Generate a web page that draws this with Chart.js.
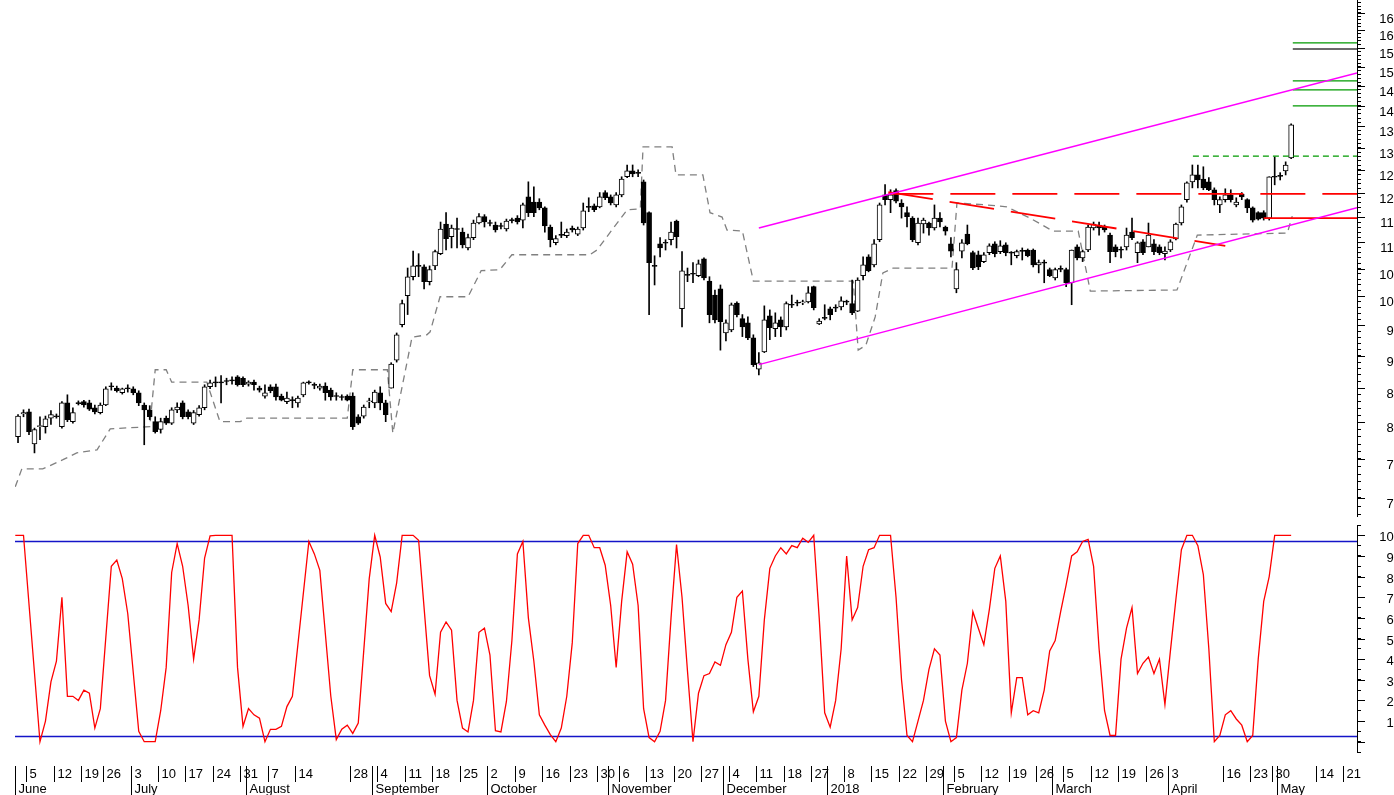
<!DOCTYPE html>
<html lang="en">
<head>
<meta charset="UTF-8">
<title>Candlestick chart with oscillator</title>
<script src="https://cdn.jsdelivr.net/npm/chart.js@4.4.3/dist/chart.umd.min.js"></script>
<style>
  html, body { margin: 0; padding: 0; background: #fff; overflow: hidden; }
  body { width: 1394px; height: 795px; position: relative; }
  canvas { position: absolute; left: 0; }
  #priceChart { top: 0; }
  #oscChart { top: 518px; }
</style>
</head>
<body>
<canvas id="priceChart" width="1420" height="518"></canvas>
<canvas id="oscChart" width="1420" height="277"></canvas>
<script>
// ---- daily candles (one per trading day, index 0 = 1 June 2017) ----
const candleOpen = [78.0,81.2,81.5,77.0,79.4,79.4,80.6,80.9,79.4,82.8,80.1,82.8,83.0,82.8,82.1,81.4,82.5,85.3,85.0,84.3,
  85.0,84.9,84.3,82.5,81.8,80.1,79.0,80.6,79.9,81.8,82.8,81.5,79.9,81.1,82.1,85.2,85.9,85.9,86.1,86.2,
  86.7,86.5,85.6,85.9,85.0,83.8,85.2,85.2,83.8,83.0,83.25,82.8,84.0,85.9,85.5,85.0,85.3,84.7,83.85,83.7,
  83.8,83.8,80.8,80.9,82.95,82.8,84.3,82.8,85.0,89.3,95.1,100.1,103.5,105.5,105.3,102.6,105.5,107.8,113.6,111.1,
  112.6,112.0,108.9,110.9,113.8,115.1,113.8,113.4,113.2,112.6,114.4,114.8,114.4,119.2,118.1,118.1,116.9,113.0,109.9,111.45,
  111.3,112.8,111.6,112.8,117.1,117.3,117.1,120.1,119.2,117.5,119.6,123.5,124.8,124.4,122.4,115.9,105.5,109.7,109.9,110.5,
  114.2,97.8,103.85,104.05,103.7,106.8,102.7,100.2,101.3,93.7,94.2,98.8,96.1,95.4,92.9,87.9,90.6,96.6,94.4,95.9,
  94.7,98.5,98.85,98.8,99.0,101.7,95.2,96.25,97.8,98.0,98.1,99.05,98.7,97.4,103.7,107.2,105.7,110.5,119.6,118.6,
  120.5,117.9,115.9,114.8,109.9,113.6,113.8,112.8,114.8,113.0,109.7,101.3,108.3,111.6,108.0,107.6,106.3,108.0,109.7,108.2,
  109.5,108.0,107.4,108.35,108.5,108.5,105.7,106.1,104.8,103.3,104.95,104.8,102.4,109.1,107.0,108.5,112.8,113.4,113.0,111.4,
  109.1,108.55,109.1,112.0,108.0,110.1,109.1,109.7,109.1,107.8,108.5,110.65,113.8,118.6,122.4,123.9,123.0,122.4,120.7,117.5,
  118.6,119.6,117.5,119.8,118.6,116.9,115.9,115.9,114.8,123.5,123.7,124.8,127.7];
const candleHigh = [81.1,81.8,81.9,79.2,80.8,80.9,81.7,81.2,83.0,84.0,82.1,83.1,83.2,83.2,82.5,82.8,85.2,85.8,85.3,85.0,
  85.5,85.2,84.6,82.8,82.4,80.8,80.6,80.9,82.1,82.8,83.1,81.8,81.7,82.4,85.5,86.2,86.7,86.9,86.5,86.7,
  86.9,86.7,86.1,86.2,85.3,85.5,85.5,85.6,84.1,84.4,83.7,83.8,85.9,86.1,85.8,85.6,85.8,85.0,84.3,84.0,
  84.0,84.3,81.1,82.5,83.5,84.7,85.2,83.2,88.9,93.7,99.3,105.1,108.3,107.8,105.7,105.5,108.5,114.0,115.9,113.4,
  114.8,112.8,111.6,114.4,115.7,115.5,114.4,114.0,113.8,114.6,114.8,115.3,117.9,122.4,121.3,118.8,117.1,113.4,111.3,114.0,
  112.6,113.2,113.0,117.9,119.0,117.7,120.1,120.5,119.6,120.1,123.5,126.1,126.1,125.0,122.8,116.1,107.4,110.9,110.5,114.0,
  114.4,108.2,105.1,106.1,106.6,107.0,103.5,101.1,102.0,95.9,98.8,99.0,96.8,96.4,93.4,90.5,98.3,97.6,97.1,96.4,
  99.0,100.2,99.3,99.3,101.7,101.8,96.1,98.5,98.1,98.5,99.9,99.3,102.9,103.3,107.2,107.6,110.5,117.9,121.8,120.7,
  120.9,118.6,117.1,115.1,114.8,114.8,114.0,117.5,115.9,113.2,110.9,106.1,110.5,113.4,108.3,108.3,108.0,109.7,110.1,110.3,
  109.9,108.2,108.5,108.9,108.7,108.7,106.6,106.6,105.1,105.1,105.5,105.1,108.5,109.5,108.5,113.4,114.0,114.0,113.4,111.8,
  109.5,109.1,112.8,114.8,110.1,110.5,113.8,110.5,109.5,109.1,110.5,113.8,117.5,122.4,126.1,126.1,125.7,123.3,121.1,119.2,
  120.9,120.7,119.0,120.1,118.8,117.1,116.1,116.3,123.5,127.9,124.4,126.8,135.6];
const candleLow = [77.2,80.8,78.3,75.8,77.6,78.5,79.7,80.6,79.2,80.1,79.9,82.5,82.2,81.7,81.2,81.2,82.4,84.7,84.4,84.1,
  84.4,84.0,82.4,76.9,80.4,78.5,78.5,79.7,79.7,81.4,80.5,80.5,79.7,80.9,81.8,84.9,85.2,82.8,85.5,85.6,
  85.3,85.2,85.3,84.7,84.4,83.5,84.3,83.2,83.1,82.7,82.1,82.2,83.7,85.6,84.9,84.7,83.2,83.2,83.2,83.2,
  83.1,79.0,79.7,80.6,82.1,82.1,81.8,80.1,85.0,89.0,94.7,96.8,102.9,103.5,101.3,102.0,104.8,107.6,108.5,108.9,
  108.9,108.9,108.5,110.5,113.6,113.0,113.2,112.0,112.6,112.2,113.8,113.6,112.8,115.1,115.1,116.5,112.0,109.1,109.5,110.9,
  110.9,112.0,111.3,112.4,116.1,116.1,116.9,118.6,117.5,117.1,119.2,123.3,123.5,123.5,113.4,96.8,102.0,107.2,108.5,109.5,
  108.9,94.7,102.6,102.4,103.5,102.9,95.4,95.4,90.9,92.4,93.9,96.4,93.1,92.6,88.3,87.0,90.5,92.6,93.1,93.1,
  94.2,98.0,98.3,98.5,98.8,97.6,95.1,95.9,95.9,97.3,97.6,98.5,96.8,97.3,102.9,104.4,105.3,110.1,117.5,115.9,
  117.9,114.8,113.0,110.1,109.5,111.8,111.4,112.4,113.0,111.4,107.2,100.6,107.0,109.5,104.8,104.8,106.1,107.6,107.2,107.8,
  107.4,105.7,107.0,106.6,107.2,105.3,104.2,102.4,103.5,102.9,104.4,101.7,98.5,106.6,106.3,108.2,112.4,111.4,112.0,106.1,
  107.2,107.0,108.5,110.5,106.1,107.6,109.1,107.6,107.6,106.6,108.2,110.45,113.4,118.1,121.1,121.1,120.7,120.5,117.5,115.9,
  118.1,118.1,117.1,118.6,115.9,114.0,114.4,114.4,114.4,121.75,122.8,123.9,127.5];
const candleClose = [80.9,81.4,78.7,79.0,79.5,80.5,81.1,80.8,82.8,80.4,81.4,82.7,82.5,81.9,81.5,82.5,84.9,85.2,84.6,84.9,
  84.9,84.3,82.8,81.8,80.8,78.7,80.1,79.9,81.8,82.2,80.8,80.8,81.4,82.1,85.2,85.8,85.8,85.8,86.0,86.1,
  85.5,85.5,85.9,85.5,84.7,84.3,84.6,83.7,83.2,83.5,83.15,83.5,85.8,85.8,85.4,85.3,84.3,83.7,83.75,83.6,
  83.2,79.4,79.9,82.2,83.1,84.4,82.8,81.1,88.7,93.4,98.7,103.5,105.5,105.4,102.6,104.8,108.2,112.6,110.7,112.8,
  112.5,109.5,110.9,113.8,115.1,114.0,113.7,112.4,113.1,114.2,114.3,114.0,117.5,115.9,115.9,116.9,113.2,110.5,110.7,111.35,
  112.0,112.4,112.6,116.3,117.0,116.5,119.2,119.0,117.9,119.6,123.0,124.8,124.1,124.25,113.8,106.1,105.4,108.9,109.8,112.0,
  111.1,104.6,103.75,103.95,105.9,103.3,96.8,95.9,95.6,95.4,98.5,96.8,94.7,92.9,88.6,88.9,95.9,94.6,95.4,94.7,
  98.7,98.4,98.75,99.0,100.6,98.0,95.7,96.15,96.8,97.9,99.2,98.95,97.1,102.9,105.7,104.6,109.7,117.5,118.6,119.6,
  118.3,117.1,115.1,110.5,113.8,114.4,112.8,114.8,114.0,112.2,108.3,104.8,109.9,109.7,105.1,105.3,107.6,109.3,107.8,109.3,
  108.0,107.9,108.2,108.25,107.4,105.7,106.1,106.0,103.7,104.8,104.85,102.4,108.5,107.0,108.2,113.0,113.6,112.8,112.4,108.2,
  108.2,108.45,111.4,110.9,109.9,108.0,111.4,108.2,108.0,108.3,110.1,113.6,117.1,122.2,123.9,122.8,121.1,120.7,118.6,118.6,
  119.6,118.6,118.1,119.2,116.9,114.4,114.6,114.8,123.5,123.4,123.6,126.1,135.4];

// ---- trailing stop (grey dashed), vertices by day index ----
const stopIdx = [-0.5,0.7,4.5,5.8,8.2,10.7,14.4,16.8,24,25,27,28,34.4,36.8,40.5,41.7,60,61,67.3,68.3,
  71.8,74.5,75.1,76.9,82,84.4,87.8,90,104.2,105.5,111,113.4,113.9,119.2,119.9,124.8,126.1,128.3,129.2,132,
  134,152.2,153.1,154.5,156.2,157.6,159.5,170.2,171.1,176.6,180.2,184.4,188.6,193.2,195.4,211.2,214.9,231.3,232.2];
const stopVal = [71.4,73.7,73.7,74.1,74.9,75.8,76.2,79.1,79.4,87.8,87.8,85.9,85.9,80.1,80.1,80.6,80.6,87.8,87.8,78.5,
  93.0,93.4,93.9,99.9,99.9,104.6,104.8,107.6,107.6,108.5,116.5,116.7,130.2,130.2,123.9,123.9,115.9,115.0,112.4,112.2,
  102.7,102.7,90.9,91.7,96.4,104.2,105.1,105.1,117.9,117.5,117.1,114.8,112.2,112.2,100.9,101.1,111.4,111.8,115.2];

// ---- drawn lines ----
const channelIdx = [135, 244];
const channelUpper = [112.8, 148.4];
const channelLower = [88.6, 116.9];
const resistIdx = [158.6, 244];
const resistVal = [119.8, 119.8];
const trendIdx = [158.6, 220];
const trendVal = [120.2, 109.3];
const supportIdx = [227, 244];
const supportVal = [114.8, 114.8];
const targetIdx = [214.1, 244];
const targetVal = [128.1, 128.1];
const levelIdx = [232.3, 244];
const greenLevels = [156.5, 146.3, 144.0, 140.0];
const greyLevel = 154.8;

// ---- oscillator (0..100), vertices by day index ----
const oscIdx = [-0.5,1,4,5,6,7,8,9,10,11,12,13,14,15,17,18,19,20,22,23,25,26,27,28,29,30,31,32,33,34,35,36,39,40,41,42,43,44,45,46,
  47,48,49,50,53,54,55,57,58,59,60,61,62,64,65,66,67,68,69,70,72,73,75,76,77,78,79,80,81,82,83,84,85,86,87,88,89,90,91,92,
  93,94,95,96,97,98,99,100,101,102,103,104,105,106,107,108,109,110,111,112,113,114,115,116,117,118,119,120,121,122,123,124,125,126,127,128,
  129,130,131,132,133,134,135,136,137,138,139,140,141,142,143,144,145,146,147,148,149,150,151,152,153,154,155,156,157,158,159,160,161,162,163,164,
  165,166,167,168,169,170,171,172,173,174,175,176,177,178,179,180,181,182,183,184,185,186,187,188,189,190,191,192,193,194,195,196,197,198,199,200,
  201,202,203,204,205,206,207,208,209,210,211,212,213,214,215,216,217,218,219,220,221,222,223,224,225,226,227,228,229,230,231,232];
const oscVal = [100,100,0,10,29,39,70,22,22,20,25,23.5,6.6,16,85,88,79,62,5,0,0,15,36,82,96,85,66,40,59,89,99.7,100,100,36,7.4,16,13,11.4,0,6,
  6,7.4,17,22,97,91,83,22,1,6,8,4,9,79,100,89.5,67,63,77,100,100,97.6,32,23,53,58,54,20,6.6,4.7,20,53,55,42,5.3,4.7,19.5,49,91,97,
  60,39,13,8,3.4,0,6.6,22,48,96,100,100,94,94,85.5,66,36,68,92,86,66,16,2,0,5,20,60,95.5,70,34,0,23.5,32,33,38.6,37,
  47,53,70,73,40,14.5,22,59,84,90,94,91,95,94,98.6,96.6,100,60,14,7,20,45,90,59,65,85,93,94,100,100,100,70,30,3,0,10,
  20,35,45,42,10,0,2,25,38,63,55,47,64,84,90,68,14,31,31,13,15,14,25,44,49,63,76,90,92,97,98,85,45,15,3,3,
  40,55,65,33,38,41,33,40,18,44,69,93,100,100,95,81,45,0,3,13,15,11,8,0,3,40,68,80,100,100,100,100];
const oscUpper = 97;
const oscLower = 2.5;

// ---- time axis labels ----
const weekLabels = ['5','12','19','26','3','10','17','24','31','7','14','28','4','11','18','25','2','9','16','23','30',
  '6','13','20','27','4','11','18','27','8','15','22','29','5','12','19','26','5','12','19','26','3','16','23','30','14','21'];
const weekStart = [2,7,12,16,21,26,31,36,41,46,51,61,66,71,76,81,86,91,96,101,106,
  110,115,120,125,130,135,140,145,151,156,161,166,171,176,181,186,191,196,201,206,210,220,225,229,237,242];
const monthNames = ['June','July','August','September','October','November','December','2018','February','March','April','May'];
const monthStart = [0,21,42,65,86,108,129,148,169,189,210,230];

// axis labels (minor ticks sit between them)
const priceLabels = [70,75,80,85,90,95,100,105,110,115,120,125,130,135,140,145,150,155,160,165];
const oscLabels = [10,20,30,40,50,60,70,80,90,100];
const oscMajor = [0,10,20,30,40,50,60,70,80,90,100];

const FONT = '13px "Liberation Sans", Arial, sans-serif';
const xMin = -0.55, xMax = 244;

function pts(xs, ys) { return xs.map((x, i) => ({x: x, y: ys[i]})); }

const wickData = candleOpen.map((o, i) => ({x: i, y: [candleLow[i], candleHigh[i]]}));
const bodyData = candleOpen.map((o, i) => ({x: i, y: [o, candleClose[i]]}));
const bodyFill = candleOpen.map((o, i) => candleClose[i] >= o ? '#ffffff' : '#000000');

// long tick marks and right-aligned labels on the value axis
const axisMarks = {
  id: 'axisMarks',
  afterDraw(chart, args, opts) {
    const s = chart.scales.y, ctx = chart.ctx;
    ctx.save();
    ctx.strokeStyle = '#000';
    ctx.fillStyle = '#000';
    ctx.lineWidth = 1;
    ctx.font = FONT;
    ctx.textAlign = 'right';
    ctx.textBaseline = 'middle';
    opts.major.forEach(v => {
      const y = Math.round(s.getPixelForValue(v)) + 0.5;
      ctx.beginPath();
      ctx.moveTo(s.left, y);
      ctx.lineTo(s.left + 8, y);
      ctx.stroke();
      if (opts.labels.includes(v)) ctx.fillText(String(v), s.left + 44, y + opts.shift);
    });
    ctx.restore();
  }
};

// week / month boxes under the oscillator
const timeAxis = {
  id: 'timeAxis',
  afterDraw(chart) {
    const xs = chart.scales.x, ctx = chart.ctx;
    const top = chart.chartArea.bottom + 14, mid = top + 16, bottom = chart.height;
    ctx.save();
    ctx.strokeStyle = '#000';
    ctx.fillStyle = '#000';
    ctx.lineWidth = 1;
    ctx.font = FONT;
    ctx.textBaseline = 'middle';
    ctx.textAlign = 'left';
    weekStart.forEach((d, i) => {
      const x = Math.round(xs.getPixelForValue(d - 0.5)) + 0.5;
      ctx.beginPath(); ctx.moveTo(x, top); ctx.lineTo(x, mid); ctx.stroke();
      ctx.fillText(weekLabels[i], x + 3, top + 8);
    });
    monthStart.forEach((d, i) => {
      const x = Math.round(xs.getPixelForValue(d - 0.5)) + 0.5;
      ctx.beginPath(); ctx.moveTo(x, top); ctx.lineTo(x, bottom); ctx.stroke();
      ctx.fillText(monthNames[i], x + 3, mid + 7);
    });
    ctx.restore();
  }
};

function rightAxis(ticks, extra) {
  return Object.assign({
    position: 'right',
    afterBuildTicks: s => { s.ticks = ticks.map(v => ({value: v})); },
    afterFit: s => { s.width = 63; s.paddingTop = 0; s.paddingBottom = 0; },
    grid: { drawOnChartArea: false, drawTicks: true, tickLength: 4, tickColor: '#000' },
    border: { display: true, color: '#000', width: 1 },
    ticks: { display: false, autoSkip: false }
  }, extra);
}

function lineSet(data, color, width, dash, order) {
  return { type: 'line', data: data, borderColor: color, borderWidth: width, borderDash: dash || [],
           pointRadius: 0, fill: false, tension: 0, order: order };
}

const minorPrice = [];
for (let v = 68; v <= 168; v++) minorPrice.push(v);
const minorOsc = [];
for (let v = -5; v <= 105; v += 5) minorOsc.push(v);

const levelSets = greenLevels.map(v => lineSet(pts(levelIdx, [v, v]), '#009a00', 1.3, null, 1));
levelSets.push(lineSet(pts(levelIdx, [greyLevel, greyLevel]), '#3a3a3a', 1.3, null, 1));

new Chart(document.getElementById('priceChart'), {
  type: 'bar',
  data: {
    datasets: [
      lineSet(pts(stopIdx, stopVal), '#808080', 1.3, [7, 5], 10),
      { label: 'wick', data: wickData, backgroundColor: '#000', barThickness: 1, grouped: false, order: 5 },
      { label: 'body', data: bodyData, backgroundColor: bodyFill, borderColor: '#000', borderWidth: 1,
        borderSkipped: false, barThickness: 5, grouped: false, minBarLength: 1, order: 4 },
      lineSet(pts(channelIdx, channelUpper), '#ff00ff', 1.5, null, 1),
      lineSet(pts(channelIdx, channelLower), '#ff00ff', 1.5, null, 1),
      lineSet(pts(resistIdx, resistVal), '#ff0000', 1.8, [45, 17], 1),
      lineSet(pts(trendIdx, trendVal), '#ff0000', 1.8, [45, 17], 1),
      lineSet(pts(supportIdx, supportVal), '#ff0000', 1.8, null, 1),
      lineSet(pts(targetIdx, targetVal), '#009a00', 1.2, [6, 4], 1)
    ].concat(levelSets)
  },
  options: {
    responsive: false, animation: false, events: [],
    layout: { padding: { left: 15, right: 0, top: 0, bottom: 2 } },
    plugins: { legend: { display: false }, tooltip: { enabled: false },
               axisMarks: { major: priceLabels, labels: priceLabels, shift: 6 } },
    scales: {
      x: { type: 'linear', min: xMin, max: xMax, display: false, offset: false, grid: { offset: false } },
      y: rightAxis(minorPrice, { type: 'logarithmic', min: 67.8, max: 168.8 })
    }
  },
  plugins: [axisMarks]
});

new Chart(document.getElementById('oscChart'), {
  type: 'line',
  data: {
    datasets: [
      lineSet(pts(oscIdx, oscVal), '#ff0000', 1.3, null, 1),
      lineSet(pts([xMin, xMax], [oscUpper, oscUpper]), '#1414c8', 1.3, null, 2),
      lineSet(pts([xMin, xMax], [oscLower, oscLower]), '#1414c8', 1.3, null, 2)
    ]
  },
  options: {
    responsive: false, animation: false, events: [],
    layout: { padding: { left: 15, right: 0, top: 7, bottom: 43 } },
    plugins: { legend: { display: false }, tooltip: { enabled: false },
               axisMarks: { major: oscMajor, labels: oscLabels, shift: 2 } },
    scales: {
      x: { type: 'linear', min: xMin, max: xMax, display: false },
      y: rightAxis(minorOsc, { type: 'linear', min: -5, max: 105 })
    }
  },
  plugins: [axisMarks, timeAxis]
});
</script>
</body>
</html>
